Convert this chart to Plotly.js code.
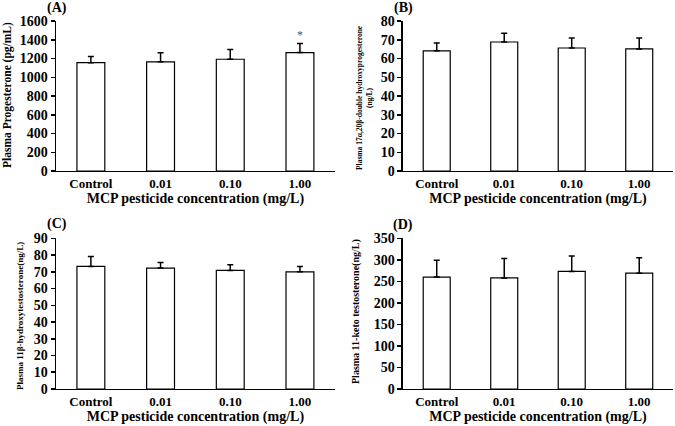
<!DOCTYPE html>
<html>
<head>
<meta charset="utf-8">
<script src="https://cdn.plot.ly/plotly-3.0.1.min.js"></script>
<style>html,body{margin:0;padding:0;background:#fff;}#chart{width:675px;height:426px;}</style>
</head>
<body>
<div id="chart"></div>
<script>
const categories = ["Control", "0.01", "0.10", "1.00"];
const progesterone = [1155, 1165, 1192, 1263];
const progesteroneErr = [65, 95, 103, 97];
const dhp = [64.1, 68.8, 65.6, 65.1];
const dhpErr = [4.2, 4.6, 5.3, 5.8];
const ohT = [73.2, 72.2, 70.8, 70.0];
const ohTErr = [5.9, 3.3, 3.4, 3.2];
const ketoT = [260, 258, 273, 269];
const ketoTErr = [39, 45, 36, 36];
const significant = "1.00";

const FONT = "Liberation Serif, Times New Roman, serif";

function barTrace(y, err, xa, ya) {
  return {
    type: "bar", x: categories, y: y, xaxis: xa, yaxis: ya,
    marker: {color: "#ffffff", line: {color: "#000000", width: 1.2}},
    error_y: {type: "data", array: err, arrayminus: err.map(() => 0), symmetric: false,
              color: "#000000", thickness: 1.5, width: 3},
    showlegend: false, hoverinfo: "none"
  };
}

const data = [
  barTrace(progesterone, progesteroneErr, "x", "y"),
  barTrace(dhp, dhpErr, "x2", "y2"),
  barTrace(ohT, ohTErr, "x3", "y3"),
  barTrace(ketoT, ketoTErr, "x4", "y4")
];

function xax(domain, anchor) {
  return {domain: domain, anchor: anchor, type: "category", showline: true, linecolor: "#000", linewidth: 1.5,
          ticks: "", showgrid: false, zeroline: false,
          tickfont: {family: FONT, size: 13, weight: "bold", color: "#000"},
          title: {text: "MCP pesticide concentration (mg/L)", standoff: 3,
                  font: {family: FONT, size: 14, weight: "bold", color: "#000"}}};
}
function yax(domain, anchor, range, dtick) {
  return {domain: domain, anchor: anchor, range: range, dtick: dtick, showline: true, linecolor: "#000", linewidth: 1.5,
          ticks: "outside", ticklen: 4, tickwidth: 1.5, tickcolor: "#000", showgrid: false, zeroline: false,
          tickfont: {family: FONT, size: 14, weight: "bold", color: "#000"}};
}

const topY = [0.5986, 0.9507];
const botY = [0.0869, 0.4406];
const leftX = [0.083, 0.496];
const rightX = [0.597, 0.997];

function lab(text, x, y, size, angle) {
  return {text: text, x: x, y: y, xref: "paper", yref: "paper", showarrow: false,
          textangle: angle || 0, font: {family: FONT, size: size, weight: "bold", color: "#000"},
          xanchor: "center", yanchor: "middle"};
}

const sigIdx = categories.indexOf(significant);

const layout = {
  width: 675, height: 426, margin: {l: 0, r: 0, t: 0, b: 0},
  paper_bgcolor: "#fff", plot_bgcolor: "#fff", bargap: 0.6,
  font: {family: FONT, color: "#000"},
  xaxis: xax(leftX, "y"), yaxis: yax(topY, "x", [0, 1600], 200),
  xaxis2: xax(rightX, "y2"), yaxis2: yax(topY, "x2", [0, 80], 10),
  xaxis3: xax(leftX, "y3"), yaxis3: yax(botY, "x3", [0, 90], 10),
  xaxis4: xax(rightX, "y4"), yaxis4: yax(botY, "x4", [0, 350], 50),
  annotations: [
    lab("(A)", 57/675, 1 - 8/426, 14),
    lab("(B)", 403/675, 1 - 8/426, 14),
    lab("(C)", 57/675, 1 - 224/426, 14),
    lab("(D)", 403/675, 1 - 225/426, 14),
    lab("Plasma Progesterone (pg/mL)", 7/675, 1 - 95/426, 11.5, -90),
    lab("Plasma 17α,20β-double hydroxyprogesterone<br>(ng/L)", 364/675, 1 - 97/426, 7.5, -90),
    lab("Plasma 11β-hydroxytestosterone(ng/L)", 20/675, 1 - 316/426, 9, -90),
    lab("Plasma 11-keto testosterone(ng/L)", 356/675, 1 - 312/426, 10, -90),
    {text: "*", x: sigIdx, y: progesterone[sigIdx] + progesteroneErr[sigIdx], xref: "x", yref: "y",
     showarrow: false, yanchor: "bottom", yshift: 0, font: {family: FONT, size: 12, color: "#555555"}}
  ]
};

Plotly.newPlot("chart", data, layout, {staticPlot: true});
</script>
</body>
</html>
